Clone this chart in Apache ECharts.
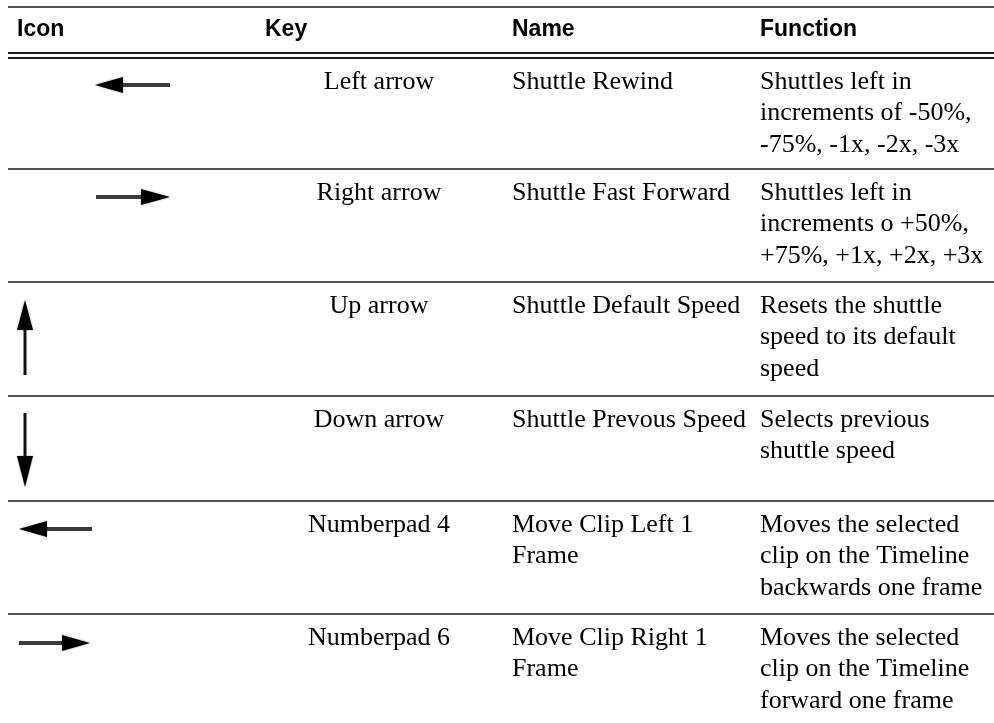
<!DOCTYPE html>
<html>
<head>
<meta charset="utf-8">
<script src="https://cdn.jsdelivr.net/npm/echarts@6/dist/echarts.min.js"></script>
<style>
html,body{margin:0;padding:0;background:#fff;}
#chart{width:994px;height:723px;}
</style>
</head>
<body>
<div id="chart"></div>
<script>
// ---- table content ----
const headers = ['Icon', 'Key', 'Name', 'Function'];
const icons = ['left', 'right', 'up', 'down', 'left', 'right'];
const keys = ['Left arrow', 'Right arrow', 'Up arrow', 'Down arrow', 'Numberpad 4', 'Numberpad 6'];
const names = [
  'Shuttle Rewind',
  'Shuttle Fast Forward',
  'Shuttle Default Speed',
  'Shuttle Prevous Speed',
  'Move Clip Left 1\nFrame',
  'Move Clip Right 1\nFrame'
];
const functions = [
  'Shuttles left in\nincrements of -50%,\n-75%, -1x, -2x, -3x',
  'Shuttles left in\nincrements o +50%,\n+75%, +1x, +2x, +3x',
  'Resets the shuttle\nspeed to its default\nspeed',
  'Selects previous\nshuttle speed',
  'Moves the selected\nclip on the Timeline\nbackwards one frame',
  'Moves the selected\nclip on the Timeline\nforward one frame'
];

// ---- layout ----
const L = {
  left: 8, right: 994,
  topLine: 7, headDouble: [53, 58],
  rowLines: [58, 169, 282, 396, 501, 614],
  headX: [17, 265, 512, 760],
  keyCenter: 379, nameX: 512, funcX: 760,
  bodyFont: '26px "Liberation Serif", "Times New Roman", serif',
  headFont: 'bold 23px "Liberation Sans", Arial, sans-serif',
  lineH: 31.5
};
// icon geometry per row: [type, x0, x1 or y..., ...]
const iconGeom = [
  {tip: [95, 85], base: 123, end: 170},
  {tip: [170, 197], base: 141, end: 96},
  {tip: [25, 300], base: 330, end: 375},
  {tip: [25, 487], base: 456, end: 413},
  {tip: [19, 529], base: 47, end: 92},
  {tip: [90, 643], base: 62, end: 19}
];

const g = [];
function hline(y, w) {
  g.push({type: 'line', shape: {x1: L.left, y1: y, x2: L.right, y2: y},
    style: {stroke: '#1a1a1a', lineWidth: w || 1.6}, silent: true});
}
hline(L.topLine, 1.6);
hline(L.headDouble[0], 2);
hline(L.headDouble[1], 2);
L.rowLines.slice(1).forEach(y => hline(y, 1.6));

headers.forEach((h, i) => {
  g.push({type: 'text', x: L.headX[i], y: 30,
    style: {text: h, font: L.headFont, fill: '#000', textVerticalAlign: 'middle', textAlign: 'left'}});
});

function arrow(type, geo) {
  const hw = 8, sw = 4;
  if (type === 'left' || type === 'right') {
    const [tx, ty] = geo.tip;
    const x0 = Math.min(geo.base, geo.end), x1 = Math.max(geo.base, geo.end);
    g.push({type: 'rect', shape: {x: x0, y: ty - sw / 2, width: x1 - x0, height: sw},
      style: {fill: '#3a3a3a'}});
    g.push({type: 'polygon', shape: {points: [[tx, ty], [geo.base, ty - hw], [geo.base, ty + hw]]},
      style: {fill: '#000', shadowBlur: 2, shadowColor: 'rgba(0,0,0,0.4)'}});
  } else {
    const [tx, ty] = geo.tip;
    const y0 = Math.min(geo.base, geo.end), y1 = Math.max(geo.base, geo.end);
    g.push({type: 'rect', shape: {x: tx - 1.5, y: y0, width: 3, height: y1 - y0},
      style: {fill: '#111'}});
    g.push({type: 'polygon', shape: {points: [[tx, ty], [tx - hw, geo.base], [tx + hw, geo.base]]},
      style: {fill: '#000', shadowBlur: 2, shadowColor: 'rgba(0,0,0,0.4)'}});
  }
}

keys.forEach((k, i) => {
  const top = L.rowLines[i] + 8;
  arrow(icons[i], iconGeom[i]);
  g.push({type: 'text', x: L.keyCenter, y: top,
    style: {text: k, font: L.bodyFont, fill: '#000', textAlign: 'center', textVerticalAlign: 'top', lineHeight: L.lineH}});
  g.push({type: 'text', x: L.nameX, y: top,
    style: {text: names[i], font: L.bodyFont, fill: '#000', textAlign: 'left', textVerticalAlign: 'top', lineHeight: L.lineH}});
  g.push({type: 'text', x: L.funcX, y: top,
    style: {text: functions[i], font: L.bodyFont, fill: '#000', textAlign: 'left', textVerticalAlign: 'top', lineHeight: L.lineH}});
});

const chart = echarts.init(document.getElementById('chart'), null, {renderer: 'canvas'});
chart.setOption({
  backgroundColor: '#fff',
  animation: false,
  graphic: {elements: g}
});
</script>
</body>
</html>
